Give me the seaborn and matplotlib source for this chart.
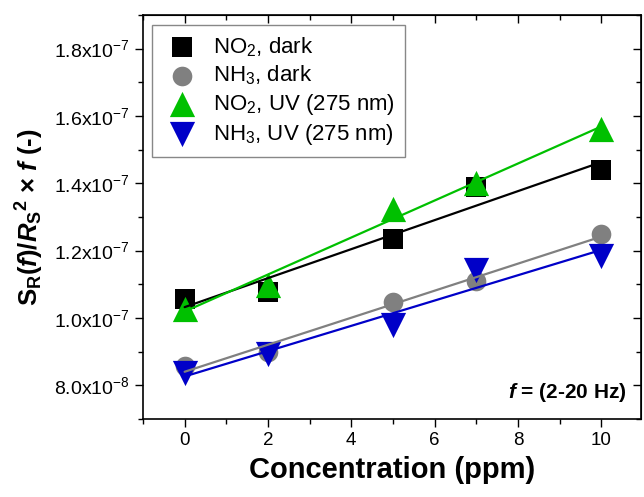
import numpy as np
import pandas as pd
import matplotlib
matplotlib.use("Agg")
import matplotlib.pyplot as plt
import seaborn as sns
from matplotlib.ticker import FuncFormatter, MultipleLocator

# ---- data ----
conc = [0, 2, 5, 7, 10]
no2_dark = [10.56e-8, 10.76e-8, 12.34e-8, 13.89e-8, 14.39e-8]
nh3_dark = [8.57e-8, 9.00e-8, 10.46e-8, 11.11e-8, 12.50e-8]
no2_uv = [10.28e-8, 10.99e-8, 13.25e-8, 14.02e-8, 15.60e-8]
nh3_uv = [8.36e-8, 8.92e-8, 9.78e-8, 11.42e-8, 11.85e-8]

labels = ["NO$_2$, dark", "NH$_3$, dark", "NO$_2$, UV (275 nm)", "NH$_3$, UV (275 nm)"]
series = [no2_dark, nh3_dark, no2_uv, nh3_uv]
colors = ["#000000", "#808080", "#00C000", "#0000C8"]
markers = ["s", "o", "^", "v"]
msizes = [215, 200, 330, 330]

sns.set_style("ticks")
plt.rcParams["font.family"] = ["Liberation Sans", "DejaVu Sans"]
plt.rcParams["mathtext.fontset"] = "custom"
plt.rcParams["mathtext.rm"] = "Liberation Sans"
plt.rcParams["mathtext.bf"] = "Liberation Sans:bold"
plt.rcParams["mathtext.it"] = "Liberation Sans:bold:italic"
plt.rcParams["mathtext.default"] = "regular"
for k in ["text.color", "axes.labelcolor", "xtick.color", "ytick.color", "axes.edgecolor"]:
    plt.rcParams[k] = "black"

fig = plt.figure(figsize=(6.44, 4.97), dpi=100)
ax = fig.add_axes([0.222, 0.157, 0.773, 0.813])

for ys, lab, c, m, s in zip(series, labels, colors, markers, msizes):
    df = pd.DataFrame({"x": conc, "y": ys})
    sns.scatterplot(data=df, x="x", y="y", ax=ax, color=c, marker=m, s=s,
                    linewidth=0, label=lab, zorder=3)
    sns.regplot(data=df, x="x", y="y", ax=ax, scatter=False, ci=None,
                color=c, line_kws={"lw": 1.6, "zorder": 4})

ax.set_xlim(-1, 10.95)
ax.set_ylim(7.0e-8, 1.9e-7)
ax.xaxis.set_major_locator(MultipleLocator(2))
ax.xaxis.set_minor_locator(MultipleLocator(1))
ax.yaxis.set_major_locator(MultipleLocator(2e-8))
ax.yaxis.set_minor_locator(MultipleLocator(1e-8))


def yfmt(v, pos):
    if v == 0:
        return "0"
    e = int(np.floor(np.log10(abs(v)) + 1e-9))
    mant = v / 10 ** e
    return f"{mant:.1f}x10$^{{{e}}}$"


ax.yaxis.set_major_formatter(FuncFormatter(yfmt))
ax.tick_params(axis="both", which="major", length=6, width=1, labelsize=13.5,
               direction="out", top=False, right=False)
ax.tick_params(axis="y", which="major", labelsize=14)
ax.tick_params(axis="both", which="minor", length=3.5, width=1, direction="out")
# mirrored ticks pointing inward on top and right
axt = ax.secondary_xaxis("top")
axt.xaxis.set_major_locator(MultipleLocator(2))
axt.xaxis.set_minor_locator(MultipleLocator(1))
axt.tick_params(which="major", direction="in", length=6, width=1, labeltop=False)
axt.tick_params(which="minor", direction="in", length=3.5, width=1)
axr = ax.secondary_yaxis("right")
axr.yaxis.set_major_locator(MultipleLocator(2e-8))
axr.yaxis.set_minor_locator(MultipleLocator(1e-8))
axr.tick_params(which="major", direction="in", length=6, width=1, labelright=False)
axr.tick_params(which="minor", direction="in", length=3.5, width=1)
for sp in ax.spines.values():
    sp.set_linewidth(1.2)
    sp.set_visible(True)

ax.set_xlabel("Concentration (ppm)", fontsize=21, fontweight="bold", labelpad=5)
ax.set_ylabel(r"S$_\mathbf{R}$($\mathit{f}$)/$\mathit{R}_\mathbf{S}{}^\mathbf{2}$ × $\mathit{f}$ (-)",
              fontsize=18.5, fontweight="bold", labelpad=6)

ax.text(0.972, 0.052, r"$\mathit{f}$ = (2-20 Hz)", transform=ax.transAxes,
        ha="right", va="baseline", fontsize=15, fontweight="bold")

leg = ax.legend(loc="upper left", bbox_to_anchor=(0.018, 0.975), borderaxespad=0,
                fontsize=16, frameon=True, fancybox=False, edgecolor="#888888",
                framealpha=1, labelspacing=0.22, handletextpad=0.5,
                borderpad=0.45, handlelength=1.8, markerscale=1.0)
leg.get_frame().set_linewidth(1.0)

fig.savefig("out.png", dpi=100)
